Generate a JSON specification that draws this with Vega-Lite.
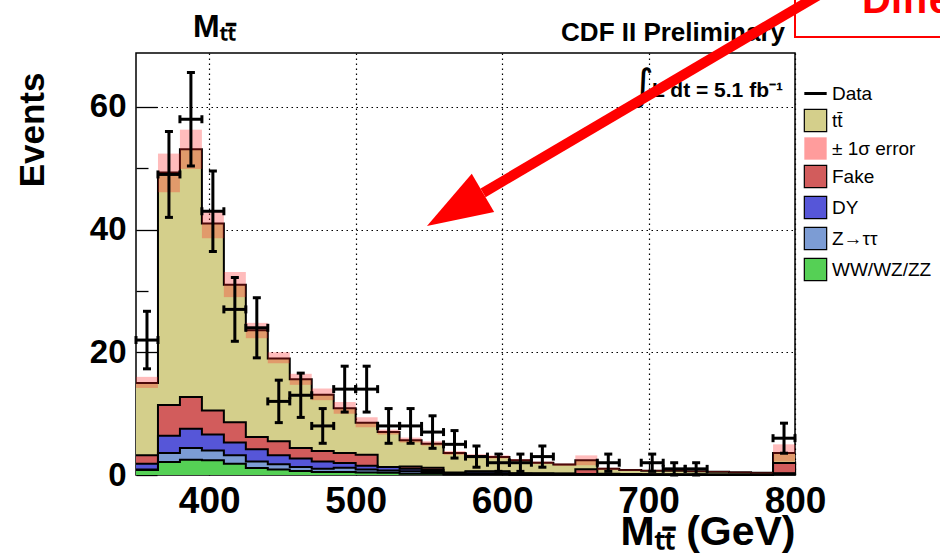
{
  "$schema": "https://vega.github.io/schema/vega-lite/v6.json",
  "width": 659,
  "height": 422,
  "autosize": {"type": "none"},
  "padding": {"left": 136, "top": 53, "right": 145, "bottom": 81},
  "background": "white",
  "config": {"font": "Liberation Sans", "view": {"stroke": "black", "strokeWidth": 1.5}},
  "datasets": {
    "mc": [
      {"lo":350,"hi":365,"ww":0.8,"ztt":0.9,"dy":1.85,"fake":3.2,"tt":15.0,"elo":14.2,"ehi":16.0},
      {"lo":365,"hi":380,"ww":2.1,"ztt":3.6,"dy":6.4,"fake":11.4,"tt":49.3,"elo":46.1,"ehi":52.4},
      {"lo":380,"hi":395,"ww":2.5,"ztt":4.4,"dy":7.55,"fake":12.7,"tt":53.1,"elo":49.9,"ehi":56.3},
      {"lo":395,"hi":410,"ww":2.4,"ztt":4.0,"dy":6.6,"fake":10.5,"tt":41.0,"elo":38.6,"ehi":43.1},
      {"lo":410,"hi":425,"ww":1.85,"ztt":3.2,"dy":5.3,"fake":8.6,"tt":31.0,"elo":29.0,"ehi":33.1},
      {"lo":425,"hi":440,"ww":1.15,"ztt":2.2,"dy":4.2,"fake":6.2,"tt":23.6,"elo":22.3,"ehi":24.8},
      {"lo":440,"hi":455,"ww":0.9,"ztt":1.75,"dy":3.2,"fake":5.5,"tt":19.0,"elo":18.2,"ehi":20.0},
      {"lo":455,"hi":470,"ww":0.65,"ztt":1.3,"dy":2.7,"fake":4.4,"tt":15.6,"elo":14.7,"ehi":16.5},
      {"lo":470,"hi":485,"ww":0.5,"ztt":1.0,"dy":2.2,"fake":3.9,"tt":13.1,"elo":12.2,"ehi":14.1},
      {"lo":485,"hi":500,"ww":0.5,"ztt":1.2,"dy":1.95,"fake":3.6,"tt":10.9,"elo":10.0,"ehi":11.9},
      {"lo":500,"hi":515,"ww":0.4,"ztt":0.9,"dy":1.5,"fake":3.3,"tt":8.5,"elo":7.8,"ehi":9.4},
      {"lo":515,"hi":530,"ww":0.35,"ztt":0.75,"dy":1.3,"fake":1.3,"tt":7.0,"elo":6.6,"ehi":7.4},
      {"lo":530,"hi":545,"ww":0.2,"ztt":0.6,"dy":1.0,"fake":1.4,"tt":5.65,"elo":5.3,"ehi":6.1},
      {"lo":545,"hi":560,"ww":0.2,"ztt":0.5,"dy":0.8,"fake":1.2,"tt":5.1,"elo":4.8,"ehi":5.5},
      {"lo":560,"hi":575,"ww":0.1,"ztt":0.2,"dy":0.3,"fake":0.4,"tt":3.6,"elo":3.3,"ehi":3.9},
      {"lo":575,"hi":590,"ww":0.1,"ztt":0.2,"dy":0.55,"fake":0.6,"tt":3.1,"elo":2.8,"ehi":3.4},
      {"lo":590,"hi":605,"ww":0.1,"ztt":0.2,"dy":0.55,"fake":0.6,"tt":2.95,"elo":2.7,"ehi":3.2},
      {"lo":605,"hi":620,"ww":0.05,"ztt":0.1,"dy":0.25,"fake":0.3,"tt":2.4,"elo":2.2,"ehi":2.6},
      {"lo":620,"hi":635,"ww":0.05,"ztt":0.1,"dy":0.2,"fake":0.3,"tt":2.0,"elo":1.8,"ehi":2.2},
      {"lo":635,"hi":650,"ww":0.05,"ztt":0.1,"dy":0.2,"fake":0.25,"tt":1.7,"elo":1.5,"ehi":1.9},
      {"lo":650,"hi":665,"ww":0.05,"ztt":0.1,"dy":0.15,"fake":0.95,"tt":2.4,"elo":1.6,"ehi":3.2},
      {"lo":665,"hi":680,"ww":0.05,"ztt":0.05,"dy":0.1,"fake":0.2,"tt":1.0,"elo":0.8,"ehi":1.2},
      {"lo":680,"hi":695,"ww":0.05,"ztt":0.05,"dy":0.1,"fake":0.15,"tt":0.8,"elo":0.65,"ehi":0.95},
      {"lo":695,"hi":710,"ww":0.03,"ztt":0.05,"dy":0.1,"fake":0.12,"tt":0.7,"elo":0.6,"ehi":0.85},
      {"lo":710,"hi":725,"ww":0.03,"ztt":0.05,"dy":0.08,"fake":0.1,"tt":0.7,"elo":0.6,"ehi":0.8},
      {"lo":725,"hi":740,"ww":0.03,"ztt":0.04,"dy":0.07,"fake":0.1,"tt":0.6,"elo":0.5,"ehi":0.7},
      {"lo":740,"hi":755,"ww":0.02,"ztt":0.03,"dy":0.05,"fake":0.08,"tt":0.55,"elo":0.45,"ehi":0.65},
      {"lo":755,"hi":770,"ww":0.02,"ztt":0.03,"dy":0.05,"fake":0.07,"tt":0.45,"elo":0.35,"ehi":0.55},
      {"lo":770,"hi":785,"ww":0.02,"ztt":0.03,"dy":0.05,"fake":0.06,"tt":0.35,"elo":0.28,"ehi":0.45},
      {"lo":785,"hi":800,"ww":0.1,"ztt":0.2,"dy":0.3,"fake":1.95,"tt":3.6,"elo":2.2,"ehi":5.0},
      {"lo":800,"hi":800,"ww":0.1,"ztt":0.2,"dy":0.3,"fake":1.95,"tt":3.6}
    ],
    "obs": [
      {"lo":350,"hi":365,"m":357.5,"n":22,"nlo":17.31,"nhi":26.69},
      {"lo":365,"hi":380,"m":372.5,"n":49,"nlo":42,"nhi":56},
      {"lo":380,"hi":395,"m":387.5,"n":58,"nlo":50.38,"nhi":65.62},
      {"lo":395,"hi":410,"m":402.5,"n":43,"nlo":36.44,"nhi":49.56},
      {"lo":410,"hi":425,"m":417.5,"n":27,"nlo":21.8,"nhi":32.2},
      {"lo":425,"hi":440,"m":432.5,"n":24,"nlo":19.1,"nhi":28.9},
      {"lo":440,"hi":455,"m":447.5,"n":12,"nlo":8.54,"nhi":15.46},
      {"lo":455,"hi":470,"m":462.5,"n":13,"nlo":9.39,"nhi":16.61},
      {"lo":470,"hi":485,"m":477.5,"n":8,"nlo":5.17,"nhi":10.83},
      {"lo":485,"hi":500,"m":492.5,"n":14,"nlo":10.26,"nhi":17.74},
      {"lo":500,"hi":515,"m":507.5,"n":14,"nlo":10.26,"nhi":17.74},
      {"lo":515,"hi":530,"m":522.5,"n":8,"nlo":5.17,"nhi":10.83},
      {"lo":530,"hi":545,"m":537.5,"n":8,"nlo":5.17,"nhi":10.83},
      {"lo":545,"hi":560,"m":552.5,"n":7,"nlo":4.35,"nhi":9.65},
      {"lo":560,"hi":575,"m":567.5,"n":5,"nlo":2.76,"nhi":7.24},
      {"lo":575,"hi":590,"m":582.5,"n":3,"nlo":1.27,"nhi":4.73},
      {"lo":590,"hi":605,"m":597.5,"n":2,"nlo":0.59,"nhi":3.41},
      {"lo":605,"hi":620,"m":612.5,"n":2,"nlo":0.59,"nhi":3.41},
      {"lo":620,"hi":635,"m":627.5,"n":3,"nlo":1.27,"nhi":4.73},
      {"lo":665,"hi":680,"m":672.5,"n":2,"nlo":0.59,"nhi":3.41},
      {"lo":695,"hi":710,"m":702.5,"n":2,"nlo":0.59,"nhi":3.41},
      {"lo":710,"hi":725,"m":717.5,"n":1,"nlo":0,"nhi":2},
      {"lo":725,"hi":740,"m":732.5,"n":1,"nlo":0,"nhi":2},
      {"lo":785,"hi":800,"m":792.5,"n":6,"nlo":3.55,"nhi":8.45}
    ]
  },
  "layer": [
    {
      "data": {"name": "mc"},
      "mark": {"type": "area", "interpolate": "step-after"},
      "encoding": {
        "x": {"field": "lo", "type": "quantitative", "scale": {"domain": [350, 800], "nice": false, "zero": false},
          "axis": {"values": [400, 500, 600, 700, 800], "tickSize": -14, "tickColor": "black", "tickWidth": 1.3,
            "labelPadding": 22, "labelFontSize": 37, "labelFontWeight": "bold", "labelColor": "black", "labelFont": "Liberation Sans",
            "labelFlush": false, "labelOverlap": false, "domain": false,
            "grid": true, "gridColor": "black", "gridDash": [1.5, 3.5], "gridWidth": 1.2,
            "title": "M\u209c\u209c\u0304 (GeV)", "titleFontSize": 41, "titleFontWeight": "bold", "titleColor": "black", "titleFont": "Liberation Sans",
            "titleX": 659, "titleY": 69, "titleAlign": "right", "titleBaseline": "alphabetic"}},
        "y": {"field": "tt", "type": "quantitative", "stack": null, "scale": {"domain": [0, 68.8], "nice": false},
          "axis": {"values": [0, 5, 10, 15, 20, 25, 30, 35, 40, 45, 50, 55, 60, 65],
            "labelExpr": "datum.value % 20 === 0 ? datum.label : ''",
            "tickSize": {"condition": {"test": "datum.value % 20 === 0", "value": -21}, "value": -12},
            "tickColor": "black", "tickWidth": 1.3, "labelPadding": 31,
            "labelFontSize": 33, "labelFontWeight": "bold", "labelColor": "black", "labelFont": "Liberation Sans", "labelOverlap": false,
            "domain": false, "grid": true, "gridColor": "black", "gridDash": [1.5, 3.5], "gridWidth": 1.2,
            "gridOpacity": {"condition": {"test": "datum.value % 20 === 0 && datum.value > 0", "value": 1}, "value": 0},
            "title": "Events", "titleFontSize": 35, "titleFontWeight": "bold", "titleColor": "black", "titleFont": "Liberation Sans",
            "titleX": -93, "titleY": 19, "titleAngle": -90, "titleAlign": "right", "titleBaseline": "alphabetic"}},
        "color": {"datum": "tt\u0304", "type": "nominal",
          "scale": {"domain": ["Data", "tt\u0304", "\u00b1 1\u03c3 error", "Fake", "DY", "Z\u2192\u03c4\u03c4", "WW/WZ/ZZ"],
                    "range": ["#000000", "#d4cf8b", "#ff9c9c", "#d25c5c", "#5656d8", "#7c9cd4", "#55d055"]},
          "legend": {"orient": "none", "legendX": 670, "legendY": 31, "title": null, "padding": 0,
            "symbolType": "square", "symbolSize": 500, "symbolStrokeColor": "black", "symbolStrokeWidth": 1.2, "symbolOpacity": 1,
            "labelFontSize": 19, "labelFont": "Liberation Sans", "labelColor": "black", "labelOffset": 7, "rowPadding": 2,
            "encode": {"symbols": {"update": {
              "shape": {"signal": "datum.index === 0 ? 'stroke' : 'square'"},
              "stroke": {"value": "black"},
              "strokeWidth": {"signal": "datum.index === 0 ? 3 : (datum.index === 2 ? 0 : 1.2)"}}}}}}
      }
    },
    {
      "data": {"name": "mc"},
      "mark": {"type": "area", "interpolate": "step-after"},
      "encoding": {
        "x": {"field": "lo", "type": "quantitative"},
        "y": {"field": "fake", "type": "quantitative", "stack": null},
        "color": {"datum": "Fake", "type": "nominal", "legend": null}
      }
    },
    {
      "data": {"name": "mc"},
      "mark": {"type": "area", "interpolate": "step-after"},
      "encoding": {
        "x": {"field": "lo", "type": "quantitative"},
        "y": {"field": "dy", "type": "quantitative", "stack": null},
        "color": {"datum": "DY", "type": "nominal", "legend": null}
      }
    },
    {
      "data": {"name": "mc"},
      "mark": {"type": "area", "interpolate": "step-after"},
      "encoding": {
        "x": {"field": "lo", "type": "quantitative"},
        "y": {"field": "ztt", "type": "quantitative", "stack": null},
        "color": {"datum": "Z\u2192\u03c4\u03c4", "type": "nominal", "legend": null}
      }
    },
    {
      "data": {"name": "mc"},
      "mark": {"type": "area", "interpolate": "step-after"},
      "encoding": {
        "x": {"field": "lo", "type": "quantitative"},
        "y": {"field": "ww", "type": "quantitative", "stack": null},
        "color": {"datum": "WW/WZ/ZZ", "type": "nominal", "legend": null}
      }
    },
    {
      "data": {"name": "mc"},
      "mark": {"type": "line", "interpolate": "step-after", "color": "black", "strokeWidth": 2},
      "encoding": {"x": {"field": "lo", "type": "quantitative"}, "y": {"field": "fake", "type": "quantitative"}}
    },
    {
      "data": {"name": "mc"},
      "mark": {"type": "line", "interpolate": "step-after", "color": "black", "strokeWidth": 2},
      "encoding": {"x": {"field": "lo", "type": "quantitative"}, "y": {"field": "dy", "type": "quantitative"}}
    },
    {
      "data": {"name": "mc"},
      "mark": {"type": "line", "interpolate": "step-after", "color": "black", "strokeWidth": 2},
      "encoding": {"x": {"field": "lo", "type": "quantitative"}, "y": {"field": "ztt", "type": "quantitative"}}
    },
    {
      "data": {"name": "mc"},
      "mark": {"type": "line", "interpolate": "step-after", "color": "black", "strokeWidth": 2},
      "encoding": {"x": {"field": "lo", "type": "quantitative"}, "y": {"field": "ww", "type": "quantitative"}}
    },
    {
      "data": {"name": "mc"},
      "mark": {"type": "line", "interpolate": "step-after", "color": "black", "strokeWidth": 2},
      "encoding": {"x": {"field": "lo", "type": "quantitative"}, "y": {"field": "tt", "type": "quantitative"}}
    },
    {
      "data": {"name": "mc"},
      "transform": [{"filter": "datum.lo < 800"}],
      "mark": {"type": "rect", "color": "#ff2020", "opacity": 0.3},
      "encoding": {
        "x": {"field": "lo", "type": "quantitative"}, "x2": {"field": "hi"},
        "y": {"field": "elo", "type": "quantitative"}, "y2": {"field": "ehi"}
      }
    },
    {
      "data": {"name": "obs"},
      "mark": {"type": "rule", "color": "black", "strokeWidth": 3},
      "encoding": {
        "x": {"field": "m", "type": "quantitative"},
        "y": {"field": "nlo", "type": "quantitative"}, "y2": {"field": "nhi"}
      }
    },
    {
      "data": {"name": "obs"},
      "mark": {"type": "rule", "color": "black", "strokeWidth": 3},
      "encoding": {
        "x": {"field": "lo", "type": "quantitative"}, "x2": {"field": "hi"},
        "y": {"field": "n", "type": "quantitative"}
      }
    },
    {
      "data": {"name": "obs"},
      "mark": {"type": "tick", "orient": "horizontal", "color": "black", "size": 8, "thickness": 3, "opacity": 1},
      "encoding": {
        "x": {"field": "m", "type": "quantitative"},
        "y": {"field": "nhi", "type": "quantitative"}
      }
    },
    {
      "data": {"name": "obs"},
      "mark": {"type": "tick", "orient": "horizontal", "color": "black", "size": 8, "thickness": 3, "opacity": 1},
      "encoding": {
        "x": {"field": "m", "type": "quantitative"},
        "y": {"field": "nlo", "type": "quantitative"}
      }
    },
    {
      "data": {"name": "obs"},
      "mark": {"type": "tick", "orient": "vertical", "color": "black", "size": 8, "thickness": 3, "opacity": 1},
      "encoding": {
        "x": {"field": "lo", "type": "quantitative"},
        "y": {"field": "n", "type": "quantitative"}
      }
    },
    {
      "data": {"name": "obs"},
      "mark": {"type": "tick", "orient": "vertical", "color": "black", "size": 8, "thickness": 3, "opacity": 1},
      "encoding": {
        "x": {"field": "hi", "type": "quantitative"},
        "y": {"field": "n", "type": "quantitative"}
      }
    },
    {
      "data": {"values": [{}]},
      "mark": {"type": "text", "text": "\u222b", "align": "center", "baseline": "middle", "fontSize": 42, "font": "DejaVu Sans", "color": "black"},
      "encoding": {"x": {"datum": 696.2, "type": "quantitative"}, "y": {"datum": 63.4, "type": "quantitative"}}
    },
    {
      "data": {"values": [{}]},
      "mark": {"type": "text", "text": "L dt = 5.1 fb\u207b\u00b9", "align": "left", "baseline": "alphabetic", "fontSize": 21, "fontWeight": "bold", "font": "Liberation Sans", "color": "black"},
      "encoding": {"x": {"datum": 702.4, "type": "quantitative"}, "y": {"datum": 61.6, "type": "quantitative"}}
    },
    {
      "data": {"values": [{}]},
      "mark": {"type": "text", "text": "CDF II Preliminary", "align": "right", "baseline": "alphabetic", "fontSize": 26, "fontWeight": "bold", "font": "Liberation Sans", "color": "black"},
      "encoding": {"x": {"datum": 793.2, "type": "quantitative"}, "y": {"datum": 70.76, "type": "quantitative"}}
    },
    {
      "data": {"values": [{}]},
      "mark": {"type": "text", "text": "M\u209c\u209c\u0304", "align": "left", "baseline": "alphabetic", "fontSize": 32, "fontWeight": "bold", "font": "Liberation Sans", "color": "black"},
      "encoding": {"x": {"datum": 388.9, "type": "quantitative"}, "y": {"datum": 71.4, "type": "quantitative"}}
    },
    {
      "data": {"values": [{}]},
      "mark": {"type": "rect", "fill": "transparent", "stroke": "#ff0000", "strokeWidth": 2},
      "encoding": {"x": {"datum": 800, "type": "quantitative"}, "x2": {"datum": 912.7},
                   "y": {"datum": 71.4, "type": "quantitative"}, "y2": {"datum": 80.7}}
    },
    {
      "data": {"values": [{}]},
      "mark": {"type": "text", "text": "Difference", "align": "left", "baseline": "alphabetic", "fontSize": 40, "fontWeight": "bold", "font": "Liberation Sans", "color": "#ff0000"},
      "encoding": {"x": {"datum": 845.8, "type": "quantitative"}, "y": {"datum": 75.3, "type": "quantitative"}}
    },
    {
      "data": {"values": [{}]},
      "mark": {"type": "rule", "color": "#ff0000", "strokeWidth": 10},
      "encoding": {"x": {"datum": 587.0, "type": "quantitative"}, "x2": {"datum": 844.4},
                   "y": {"datum": 46.0, "type": "quantitative"}, "y2": {"datum": 82.2}}
    },
    {
      "data": {"values": [{}]},
      "mark": {"type": "point", "shape": "M-1,0L1,-0.68L1,0.68Z", "size": 4225, "angle": 329.5, "filled": true, "color": "#ff0000", "opacity": 1, "strokeWidth": 0},
      "encoding": {"x": {"datum": 567.8, "type": "quantitative"}, "y": {"datum": 43.3, "type": "quantitative"}}
    }
  ]
}
